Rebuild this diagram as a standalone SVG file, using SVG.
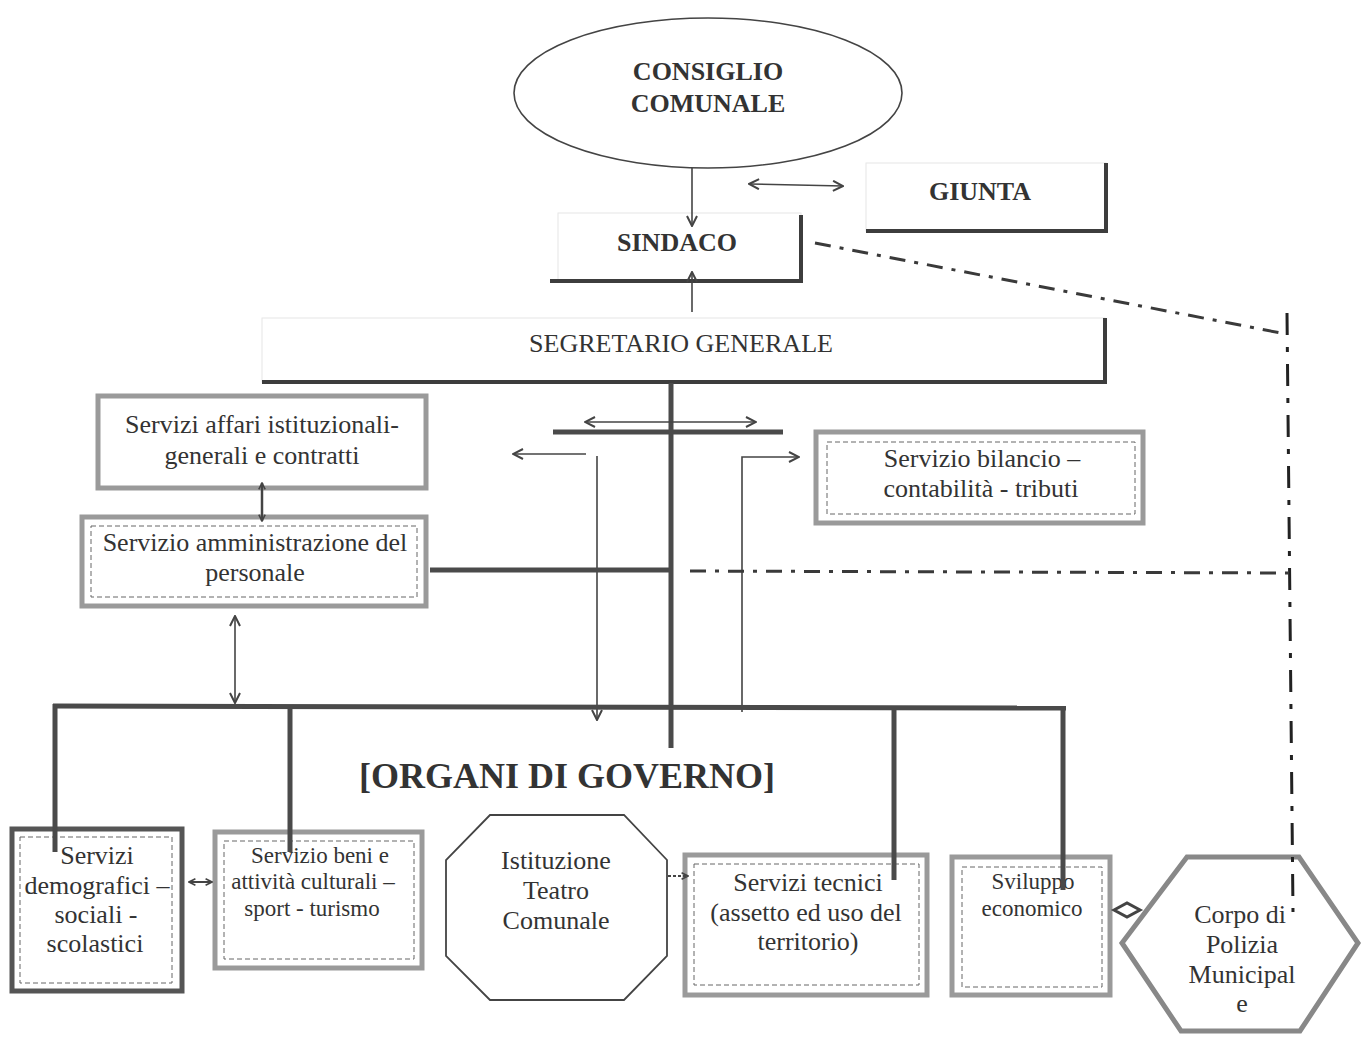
<svg xmlns="http://www.w3.org/2000/svg" width="1362" height="1038" viewBox="0 0 1362 1038">
<style>
text{font-family:"Liberation Serif",Tinos,"Times New Roman","DejaVu Serif",serif;fill:#333;text-anchor:middle;font-size:26px}
.b{font-weight:bold}
.sm{font-size:23px}
.thin{stroke:#444;stroke-width:1.6;fill:none}
.thick{stroke:#4a4a4a;stroke-width:5;fill:none}
.shadow{stroke:#3d3d3d;stroke-width:4;fill:none}
.faint{fill:#fff;stroke:#e6e6e6;stroke-width:1}
.gbox{fill:#fff;stroke:#9a9a9a;stroke-width:5}
.inner{fill:none;stroke:#666;stroke-width:1;stroke-dasharray:5 3}
.dd{stroke:#3a3a3a;stroke-width:3;fill:none;stroke-dasharray:16 9 4 9}
</style>
<defs>
<marker id="a" viewBox="0 0 12 12" refX="11" refY="6" markerWidth="12" markerHeight="12" markerUnits="userSpaceOnUse" orient="auto-start-reverse">
<path d="M1,1 L11,6 L1,11" fill="none" stroke="#444" stroke-width="2"/>
</marker>
<marker id="s" viewBox="0 0 10 10" refX="9" refY="5" markerWidth="8" markerHeight="8" markerUnits="userSpaceOnUse" orient="auto-start-reverse">
<path d="M1,1 L9,5 L1,9" fill="none" stroke="#444" stroke-width="2"/>
</marker>
</defs>

<g id="consiglio">
<ellipse cx="708" cy="93" rx="194" ry="75" fill="#fff" stroke="#444" stroke-width="1.6"/>
<text class="b" x="708" y="80">CONSIGLIO</text>
<text class="b" x="708" y="112">COMUNALE</text>
</g>

<g id="giunta">
<rect class="faint" x="866" y="163" width="240" height="68"/>
<polyline class="shadow" points="866,231 1106,231 1106,163"/>
<text class="b" x="980" y="200">GIUNTA</text>
</g>

<g id="sindaco">
<rect class="faint" x="558" y="213" width="243" height="68"/>
<polyline class="shadow" points="550,281 801,281 801,215"/>
<text class="b" x="677" y="251">SINDACO</text>
</g>

<g id="segretario">
<rect class="faint" x="262" y="318" width="843" height="64"/>
<polyline class="shadow" points="262,382 1105,382 1105,318"/>
<text x="681" y="352" textLength="304" lengthAdjust="spacingAndGlyphs">SEGRETARIO GENERALE</text>
</g>

<g id="affari">
<rect class="gbox" x="98" y="396" width="328" height="92"/>
<text x="262" y="433">Servizi affari istituzionali-</text>
<text x="262" y="464">generali e contratti</text>
</g>

<g id="personale">
<rect class="gbox" x="82" y="517" width="344" height="89"/>
<rect class="inner" x="91" y="526" width="326" height="71"/>
<text x="255" y="551">Servizio amministrazione del</text>
<text x="255" y="581">personale</text>
</g>

<g id="bilancio">
<rect class="gbox" x="816" y="432" width="327" height="91"/>
<rect class="inner" x="827" y="442" width="308" height="72"/>
<text x="982" y="467">Servizio bilancio –</text>
<text x="981" y="497">contabilità - tributi</text>
</g>

<g id="organi">
<text class="b" x="567" y="788" font-size="36" style="font-size:36px">[ORGANI DI GOVERNO]</text>
</g>

<g id="demografici">
<rect x="12" y="829" width="170" height="162" fill="#fff" stroke="#555" stroke-width="5"/>
<rect class="inner" x="20" y="837" width="152" height="146"/>
<text x="97" y="864">Servizi</text>
<text x="97" y="894">demografici –</text>
<text x="96" y="923">sociali -</text>
<text x="95" y="952">scolastici</text>
</g>

<g id="beni">
<rect class="gbox" x="215" y="832" width="207" height="136"/>
<rect class="inner" x="224" y="841" width="190" height="118"/>
<text class="sm" x="320" y="863">Servizio beni e</text>
<text class="sm" x="313" y="889">attività culturali –</text>
<text class="sm" x="312" y="916">sport - turismo</text>
</g>

<g id="teatro">
<polygon points="490,815 624,815 667,860 667,956 624,1000 490,1000 446,956 446,860" fill="#fff" stroke="#444" stroke-width="1.8"/>
<text x="556" y="869">Istituzione</text>
<text x="556" y="899">Teatro</text>
<text x="556" y="929">Comunale</text>
</g>

<g id="tecnici">
<rect class="gbox" x="685" y="855" width="242" height="140" stroke="#b0b0b0"/>
<rect class="inner" x="694" y="864" width="225" height="121"/>
<text x="808" y="891">Servizi tecnici</text>
<text x="806" y="921">(assetto ed uso del</text>
<text x="808" y="950">territorio)</text>
</g>

<g id="sviluppo">
<rect class="gbox" x="952" y="857" width="158" height="138"/>
<rect class="inner" x="962" y="867" width="140" height="120"/>
<text class="sm" x="1033" y="889">Sviluppo</text>
<text class="sm" x="1032" y="916">economico</text>
</g>

<g id="polizia">
<polygon points="1187,857 1299,857 1358,943 1300,1031 1181,1031 1122,943" fill="#fff" stroke="#888" stroke-width="5"/>
<text x="1240" y="923">Corpo di</text>
<text x="1242" y="953">Polizia</text>
<text x="1242" y="983">Municipal</text>
<text x="1242" y="1012">e</text>
</g>

<g id="connectors">
<line class="thin" x1="692" y1="168" x2="692" y2="226" marker-end="url(#a)"/>
<line class="thin" x1="749" y1="184" x2="843" y2="186" marker-start="url(#a)" marker-end="url(#a)"/>
<line class="thin" x1="692" y1="312" x2="692" y2="272" marker-end="url(#a)"/>
<line class="dd" x1="815" y1="243" x2="1286" y2="334"/>
<line x1="1287" y1="313" x2="1293" y2="912" stroke="#222" stroke-width="3" stroke-dasharray="22 12 5 12"/>
<line class="thick" x1="671" y1="383" x2="671" y2="748"/>
<line class="thick" x1="553" y1="432" x2="783" y2="432"/>
<line class="thin" x1="585" y1="422" x2="756" y2="422" marker-start="url(#a)" marker-end="url(#a)"/>
<line class="thin" x1="586" y1="454" x2="513" y2="454" marker-end="url(#a)"/>
<line class="thin" x1="597" y1="456" x2="597" y2="720" marker-end="url(#a)"/>
<polyline class="thin" points="742,712 742,457 799,457" marker-end="url(#a)"/>
<line x1="262" y1="483" x2="262" y2="521" stroke="#444" stroke-width="2.5" marker-start="url(#s)" marker-end="url(#s)"/>
<line class="thick" x1="430" y1="570" x2="671" y2="570"/>
<line class="dd" x1="690" y1="571" x2="1289" y2="573"/>
<line class="thin" x1="235" y1="616" x2="235" y2="703" marker-start="url(#a)" marker-end="url(#a)"/>
<line x1="53" y1="706" x2="1066" y2="708" stroke="#4a4a4a" stroke-width="5"/>
<line class="thick" x1="55" y1="704" x2="55" y2="852"/>
<line class="thick" x1="290" y1="706" x2="290" y2="852"/>
<line class="thick" x1="894" y1="708" x2="894" y2="880"/>
<line class="thick" x1="1063" y1="708" x2="1063" y2="890"/>
<line x1="189" y1="882" x2="212" y2="882" stroke="#444" stroke-width="2" marker-start="url(#s)" marker-end="url(#s)"/>
<line x1="668" y1="876" x2="688" y2="876" stroke="#444" stroke-width="2" stroke-dasharray="3 2" marker-end="url(#s)"/>
<path d="M1114,910 L1127,903 L1140,910 L1127,917 Z" fill="#fff" stroke="#444" stroke-width="3"/>
</g>
</svg>
